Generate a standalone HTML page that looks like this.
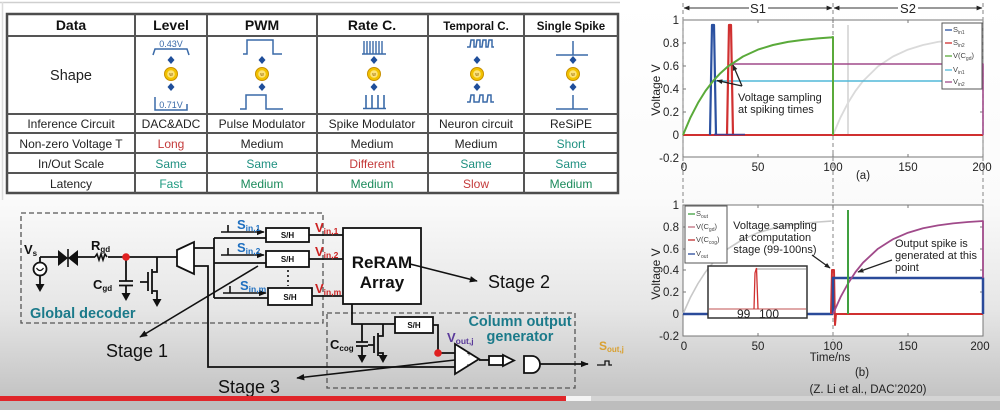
<!DOCTYPE html>
<html><head><meta charset="utf-8"><style>
html,body{margin:0;padding:0;background:#fff;}
svg{display:block;font-family:"Liberation Sans",Arial,sans-serif;}
</style></head><body>
<svg width="1000" height="410" viewBox="0 0 1000 410" xmlns="http://www.w3.org/2000/svg">
<defs>
<linearGradient id="bg" x1="0" y1="0" x2="0" y2="1">
<stop offset="0" stop-color="#ffffff"/>
<stop offset="0.5" stop-color="#fbfbfb"/>
<stop offset="0.78" stop-color="#e6e6e6"/>
<stop offset="1" stop-color="#c4c4c4"/>
</linearGradient>
<marker id="ah" viewBox="0 0 10 10" refX="9" refY="5" markerWidth="8" markerHeight="8" orient="auto-start-reverse" markerUnits="userSpaceOnUse"><path d="M0,1 L10,5 L0,9 Z" fill="#111"/></marker>
<marker id="ahs" viewBox="0 0 10 10" refX="9" refY="5" markerWidth="6" markerHeight="6" orient="auto-start-reverse" markerUnits="userSpaceOnUse"><path d="M0,1 L10,5 L0,9 Z" fill="#222"/></marker>
</defs>

<!-- background -->
<rect width="1000" height="396" fill="url(#bg)"/>
<line x1="0" y1="2.5" x2="620" y2="2.5" stroke="#cfcfcf" stroke-width="1.5"/>
<line x1="2.5" y1="2" x2="2.5" y2="200" stroke="#dcdcdc" stroke-width="1.5"/>

<!-- ================= TABLE ================= -->
<rect x="7" y="14" width="611" height="179" fill="#fff" stroke="#4d4d4d" stroke-width="2.5"/>
<g stroke="#555" stroke-width="2">
<line x1="135" y1="14" x2="135" y2="193"/>
<line x1="207" y1="14" x2="207" y2="193"/>
<line x1="317" y1="14" x2="317" y2="193"/>
<line x1="428" y1="14" x2="428" y2="193"/>
<line x1="524" y1="14" x2="524" y2="193"/>
<line x1="7" y1="36" x2="618" y2="36"/>
<line x1="7" y1="114" x2="618" y2="114"/>
<line x1="7" y1="133" x2="618" y2="133"/>
<line x1="7" y1="153" x2="618" y2="153"/>
<line x1="7" y1="173" x2="618" y2="173"/>
</g>
<g font-weight="bold" fill="#111" text-anchor="middle">
<text x="71" y="30" font-size="14">Data</text>
<text x="171" y="30" font-size="14">Level</text>
<text x="262" y="30" font-size="14">PWM</text>
<text x="372" y="30" font-size="14">Rate C.</text>
<text x="476" y="30" font-size="11.5">Temporal C.</text>
<text x="571" y="30" font-size="11.5">Single Spike</text>
</g>
<text x="71" y="80" font-size="14.5" text-anchor="middle" fill="#222">Shape</text>
<g font-size="12" text-anchor="middle" fill="#222">
<text x="71" y="128">Inference Circuit</text>
<text x="171" y="128">DAC&amp;ADC</text>
<text x="262" y="128">Pulse Modulator</text>
<text x="372" y="128">Spike Modulator</text>
<text x="476" y="128">Neuron circuit</text>
<text x="571" y="128">ReSiPE</text>
<text x="71" y="148">Non-zero Voltage T</text>
<text x="171" y="148" fill="#c43a3a">Long</text>
<text x="262" y="148">Medium</text>
<text x="372" y="148">Medium</text>
<text x="476" y="148">Medium</text>
<text x="571" y="148" fill="#1e9080">Short</text>
<text x="71" y="168">In/Out Scale</text>
<text x="171" y="168" fill="#1e9080">Same</text>
<text x="262" y="168" fill="#1e9080">Same</text>
<text x="372" y="168" fill="#c43a3a">Different</text>
<text x="476" y="168" fill="#1e9080">Same</text>
<text x="571" y="168" fill="#1e9080">Same</text>
<text x="71" y="188">Latency</text>
<text x="171" y="188" fill="#1e9a80">Fast</text>
<text x="262" y="188" fill="#1a8a5a">Medium</text>
<text x="372" y="188" fill="#1a8a5a">Medium</text>
<text x="476" y="188" fill="#c43a3a">Slow</text>
<text x="571" y="188" fill="#1a8a5a">Medium</text>
</g>

<!-- icons: diamonds + weight circles -->
<g fill="#1f4e9a">
<path d="M171,56 l3.5,4 l-3.5,4 l-3.5,-4Z"/><path d="M171,83 l3.5,4 l-3.5,4 l-3.5,-4Z"/>
<path d="M262,56 l3.5,4 l-3.5,4 l-3.5,-4Z"/><path d="M262,83 l3.5,4 l-3.5,4 l-3.5,-4Z"/>
<path d="M374,56 l3.5,4 l-3.5,4 l-3.5,-4Z"/><path d="M374,83 l3.5,4 l-3.5,4 l-3.5,-4Z"/>
<path d="M477,56 l3.5,4 l-3.5,4 l-3.5,-4Z"/><path d="M477,83 l3.5,4 l-3.5,4 l-3.5,-4Z"/>
<path d="M573,56 l3.5,4 l-3.5,4 l-3.5,-4Z"/><path d="M573,83 l3.5,4 l-3.5,4 l-3.5,-4Z"/>
</g>
<g>
<circle cx="171" cy="74" r="6.5" fill="#f2c200" stroke="#c89000"/><circle cx="171" cy="74" r="3.8" fill="#fce37a"/>
<circle cx="262" cy="74" r="6.5" fill="#f2c200" stroke="#c89000"/><circle cx="262" cy="74" r="3.8" fill="#fce37a"/>
<circle cx="374" cy="74" r="6.5" fill="#f2c200" stroke="#c89000"/><circle cx="374" cy="74" r="3.8" fill="#fce37a"/>
<circle cx="477" cy="74" r="6.5" fill="#f2c200" stroke="#c89000"/><circle cx="477" cy="74" r="3.8" fill="#fce37a"/>
<circle cx="573" cy="74" r="6.5" fill="#f2c200" stroke="#c89000"/><circle cx="573" cy="74" r="3.8" fill="#fce37a"/>
</g>
<g font-size="5" fill="#8a5a00" text-anchor="middle">
<text x="171" y="76">w</text><text x="262" y="76">w</text><text x="374" y="76">w</text><text x="477" y="76">w</text><text x="573" y="76">w</text>
</g>
<!-- waveforms -->
<g fill="none" stroke="#3a6aa8" stroke-width="1.5">
<path d="M153,55 L155,49 L187,49 L189,55"/>
<path d="M155,97 L155,110 L187,110 L187,104"/>
<path d="M243,54 L247,54 L247,40 L273,40 L273,54 L282,54"/>
<path d="M240,109 L246,109 L246,95 L266,95 L266,109 L283,109"/>
<path d="M362,54 L386,54 M364,41 V54 M367,41 V54 M370,41 V54 M373,41 V54 M376,41 V54 M379,41 V54 M382,41 V54" stroke-width="1.4"/>
<path d="M363,108.5 L386,108.5 M366,95 V108 M372,95 V108 M378,95 V108 M384,95 V108" stroke-width="1.6"/>
<path d="M467,47 L470,47 L471,40 L474,40 L474,47 L476,47 L477,40 L480,40 L480,47 L482,47 L483,40 L486,40 L486,47 L488,47 L489,40 L492,40 L492,47 L494,47"/>
<path d="M467,102 L470,102 L471,95 L474,95 L474,102 L479,102 L480,95 L483,95 L483,102 L487,102 L488,95 L491,95 L491,102 L494,102"/>
<path d="M556,55 L588,55 M573,41 V55"/>
<path d="M556,109 L588,109 M573,95 V109"/>
</g>
<g font-size="9" fill="#3a6aa8" text-anchor="middle">
<text x="171" y="47">0.43V</text>
<text x="171" y="108">0.71V</text>
</g>

<!-- ================= CIRCUIT ================= -->
<g fill="none" stroke="#555" stroke-width="1.3" stroke-dasharray="5,3">
<rect x="21" y="213" width="302" height="110"/>
<rect x="327" y="313" width="248" height="75"/>
</g>
<g stroke="#111" stroke-width="1.8" fill="none">
<line x1="40" y1="257" x2="40" y2="262.5"/>
<circle cx="40" cy="269" r="6.5" fill="#fff"/>
<path d="M36.5,268 q3.5,5 7,0" stroke-width="1.2"/>
<line x1="40" y1="275.5" x2="40" y2="285"/>
<path d="M40,257 H58 M78,257 H95 M108,257 H177"/>
<path d="M95,257 l2,-3 l2,6 l2,-6 l2,6 l2,-6 l2,3" stroke-width="1.6"/>
<path d="M126,257 V281 M119,281 H133 M119,285.5 H133 M126,285.5 V294"/>
<path d="M157,257 V272 H152 M152,269 V294 M152,291 H157 V300 M148,272 V291 M140,282 H148"/>
<polygon points="177,250 194,242 194,274 177,266" fill="#fff"/>
<path d="M194,248 H214 M214,238 V298 M214,238 H266 M214,263 H266 M214,298 H268"/>
<path d="M194,266 H208 V367 H455"/>
<rect x="266" y="228" width="43" height="14" fill="#fff"/>
<rect x="266" y="251" width="43" height="16" fill="#fff"/>
<rect x="268" y="288" width="44" height="17" fill="#fff"/>
<path d="M309,235 H343 M309,259 H343 M312,296 H343"/>
<rect x="343" y="228" width="78" height="76" fill="#fff"/>
<path d="M352,304 V324 H395"/>
<rect x="395" y="317" width="38" height="16" fill="#fff"/>
<path d="M433,325 H438 V353 H455"/>
<path d="M362,324 V342 M356,342 H368 M356,346 H368 M362,346 V356"/>
<path d="M383,324 V336 H378 M378,333 V356 M378,353 H383 V356 M374,336 V353 M368,345 H374"/>
<polygon points="455,344 455,374 479,359" fill="#fff"/>
<path d="M479,360 H489"/>
<rect x="489" y="356" width="14" height="9" fill="#fff"/>
<polygon points="503,355 503,366 514,360.5" fill="#fff"/>
<path d="M524,356 H532 A8,8.5 0 0 1 532,373 H524 Z" fill="#fff"/>
<path d="M540,364 H588" marker-end="url(#ah)"/>
<path d="M597,365 H605 V361 H609 V365 H612" stroke-width="1.3"/>
</g>
<g fill="#111">
<path d="M35.5,284 H44.5 L40,292 Z"/>
<path d="M121.5,293 H130.5 L126,301 Z"/>
<path d="M152.5,299 H161.5 L157,307 Z"/>
<path d="M357.5,355 H366.5 L362,363 Z"/>
<path d="M378.5,355 H387.5 L383,363 Z"/>
<polygon points="58,250 58,266 68,258"/>
<polygon points="78,250 78,266 68,258"/>
</g>
<line x1="68" y1="249" x2="68" y2="267" stroke="#111" stroke-width="1.6"/>
<g stroke="#111" stroke-width="1.6" fill="none">
<path d="M221,232 H264" marker-end="url(#ah)"/>
<path d="M228,225 V232"/>
<path d="M221,255 H264" marker-end="url(#ah)"/>
<path d="M228,248 V255"/>
<path d="M223,293 H266" marker-end="url(#ah)"/>
<path d="M230,286 V293"/>
<path d="M288,270 V286" stroke-dasharray="2,3"/>
<path d="M258,266 L140,337" marker-end="url(#ah)"/>
<path d="M410,264 L477,281" marker-end="url(#ah)"/>
<path d="M455,360 L297,378" marker-end="url(#ah)"/>
</g>
<circle cx="126" cy="257" r="3.8" fill="#e02020"/>
<circle cx="438" cy="353" r="3.8" fill="#e02020"/>
<g font-weight="bold" font-size="8" fill="#111" text-anchor="middle">
<text x="287.5" y="238">S/H</text>
<text x="287.5" y="262">S/H</text>
<text x="290" y="300">S/H</text>
<text x="414" y="328">S/H</text>
<text x="469" y="356" font-size="7">+</text>
<text x="469" y="367" font-size="7">–</text>
</g>
<g font-weight="bold" fill="#111">
<text x="24" y="254" font-size="13">V<tspan font-size="8" dy="2">s</tspan></text>
<text x="91" y="250" font-size="13">R<tspan font-size="8" dy="2">gd</tspan></text>
<text x="93" y="289" font-size="13">C<tspan font-size="8" dy="2">gd</tspan></text>
<text x="330" y="349" font-size="13">C<tspan font-size="8" dy="2">cog</tspan></text>
<text x="382" y="268" font-size="17" text-anchor="middle">ReRAM</text>
<text x="382" y="288" font-size="17" text-anchor="middle">Array</text>
</g>
<g font-weight="bold" fill="#1e6fc0">
<text x="237" y="229" font-size="13">S<tspan font-size="8.5" dy="2">in,1</tspan></text>
<text x="237" y="252" font-size="13">S<tspan font-size="8.5" dy="2">in,2</tspan></text>
<text x="240" y="290" font-size="13">S<tspan font-size="8.5" dy="2">in,m</tspan></text>
</g>
<g font-weight="bold" fill="#cc2222">
<text x="315" y="232" font-size="13">V<tspan font-size="8.5" dy="2">in,1</tspan></text>
<text x="315" y="256" font-size="13">V<tspan font-size="8.5" dy="2">in,2</tspan></text>
<text x="315" y="293" font-size="13">V<tspan font-size="8.5" dy="2">in,m</tspan></text>
</g>
<text x="447" y="342" font-weight="bold" font-size="13" fill="#5a3a9a">V<tspan font-size="8.5" dy="2">out,j</tspan></text>
<text x="599" y="350" font-weight="bold" font-size="12" fill="#d9a030">S<tspan font-size="8" dy="2">out,j</tspan></text>
<g font-weight="bold" fill="#1b7a8a">
<text x="30" y="318" font-size="14.5">Global decoder</text>
<text x="520" y="326" font-size="14.5" text-anchor="middle">Column output</text>
<text x="520" y="341" font-size="14.5" text-anchor="middle">generator</text>
</g>
<g font-size="18" fill="#111">
<text x="106" y="357">Stage 1</text>
<text x="488" y="288">Stage 2</text>
<text x="218" y="393">Stage 3</text>
</g>

<!-- ================= PLOTS ================= -->
<rect x="683" y="20" width="300" height="137" fill="#fff" stroke="#777" stroke-width="1"/>
<rect x="683" y="205" width="300" height="131" fill="#fff" stroke="#777" stroke-width="1"/>
<g stroke="#333" stroke-width="1" fill="none">
<path d="M684,8 H749" marker-start="url(#ahs)"/>
<path d="M768,8 H832" marker-end="url(#ahs)"/>
<path d="M834,8 H898" marker-start="url(#ahs)"/>
<path d="M918,8 H982" marker-end="url(#ahs)"/>
</g>
<g font-size="13" fill="#222" text-anchor="middle">
<text x="758" y="13">S1</text>
<text x="908" y="13">S2</text>
</g>
<g stroke="#999" stroke-width="1.2" stroke-dasharray="4,3">
<line x1="683" y1="3" x2="683" y2="205"/>
<line x1="833" y1="3" x2="833" y2="340"/>
<line x1="983" y1="3" x2="983" y2="205"/>
</g>
<g stroke="#777" stroke-width="1">
<path d="M758,20 v3 M833,20 v3 M908,20 v3 M758,157 v-3 M833,157 v-3 M908,157 v-3 M683,43 h3 M683,66 h3 M683,89 h3 M683,112 h3 M683,135 h3 M983,43 h-3 M983,66 h-3 M983,89 h-3 M983,112 h-3"/>
<path d="M758,205 v3 M833,205 v3 M908,205 v3 M758,336 v-3 M908,336 v-3 M683,227 h3 M683,249 h3 M683,270 h3 M683,292 h3 M683,314 h3 M983,227 h-3 M983,249 h-3 M983,270 h-3 M983,292 h-3"/>
</g>
<g font-size="11.5" fill="#222" text-anchor="end">
<text x="679" y="24">1</text><text x="679" y="47">0.8</text><text x="679" y="70">0.6</text><text x="679" y="93">0.4</text><text x="679" y="116">0.2</text><text x="679" y="139">0</text><text x="679" y="162">-0.2</text>
<text x="679" y="209">1</text><text x="679" y="231">0.8</text><text x="679" y="253">0.6</text><text x="679" y="274">0.4</text><text x="679" y="296">0.2</text><text x="679" y="318">0</text><text x="679" y="340">-0.2</text>
</g>
<g font-size="11.5" fill="#222" text-anchor="middle">
<text x="684" y="171">0</text><text x="758" y="171">50</text><text x="833" y="171">100</text><text x="908" y="171">150</text><text x="982" y="171">200</text>
<text x="684" y="350">0</text><text x="758" y="350">50</text><text x="833" y="350">100</text><text x="908" y="350">150</text><text x="980" y="350">200</text>
<text x="863" y="179">(a)</text>
<text x="830" y="361">Time/ns</text>
<text x="862" y="376">(b)</text>
<text x="868" y="393">(Z. Li et al., DAC’2020)</text>
</g>
<text transform="translate(660,90) rotate(-90)" font-size="12" fill="#222" text-anchor="middle">Voltage V</text>
<text transform="translate(660,274) rotate(-90)" font-size="12" fill="#222" text-anchor="middle">Voltage V</text>

<!-- top plot curves -->
<g fill="none" stroke-linejoin="round">
<polyline points="833,135 840.5,117.4 848,102.9 855.5,90.9 863,81.1 878,66.4 893,56.5 908,49.6 923,45 938,41.9 953,39.9" stroke="#dadada" stroke-width="1.8"/>
<line x1="848" y1="25" x2="848" y2="135" stroke="#dcdcdc" stroke-width="2"/>
<line x1="683" y1="135" x2="983" y2="135" stroke="#d03030" stroke-width="2"/>
<line x1="713" y1="81" x2="983" y2="81" stroke="#50b8d8" stroke-width="1.6"/>
<polyline points="730,64 983,64 983,135" stroke="#a04a8a" stroke-width="1.6"/>
<polyline points="710,135 712,25 714,25 716,135" stroke="#2a50a0" stroke-width="2.2"/>
<polyline points="727,135 729,25 731,25 733,135" stroke="#d03030" stroke-width="2.2"/>
<line x1="714" y1="134.5" x2="745" y2="134.5" stroke="#4a3a8a" stroke-width="1.5"/>
<polyline points="683,135 690.5,117.4 698,102.9 705.5,90.9 713,81.1 720.5,73.1 728,66.4 743,56.5 758,49.6 773,45 788,41.9 803,39.9 818,38.4 831.5,37.4 833,37 833,135" stroke="#5aaa3a" stroke-width="2"/>
</g>
<g stroke="#222" stroke-width="1.3" fill="none">
<path d="M742,86 L717,80.5" marker-end="url(#ahs)"/>
<path d="M742,86 L733,65" marker-end="url(#ahs)"/>
</g>
<g font-size="11" fill="#222">
<text x="738" y="101">Voltage sampling</text>
<text x="738" y="113">at spiking times</text>
</g>
<rect x="942" y="23" width="40" height="66" fill="#fff" stroke="#555" stroke-width="1"/>
<g stroke-width="1.3">
<line x1="945" y1="30" x2="952" y2="30" stroke="#2a50a0"/>
<line x1="945" y1="43" x2="952" y2="43" stroke="#d03030"/>
<line x1="945" y1="56" x2="952" y2="56" stroke="#5aaa3a"/>
<line x1="945" y1="70" x2="952" y2="70" stroke="#50b8d8"/>
<line x1="945" y1="82" x2="952" y2="82" stroke="#a04a8a"/>
</g>
<g font-size="7.5" fill="#444">
<text x="953" y="32">S<tspan font-size="5" dy="2">in1</tspan></text>
<text x="953" y="45">S<tspan font-size="5" dy="2">in2</tspan></text>
<text x="953" y="58">V(C<tspan font-size="5" dy="2">gd</tspan><tspan dy="-2">)</tspan></text>
<text x="953" y="72">V<tspan font-size="5" dy="2">in1</tspan></text>
<text x="953" y="84">V<tspan font-size="5" dy="2">in2</tspan></text>
</g>

<!-- bottom plot curves -->
<g fill="none" stroke-linejoin="round">
<polyline points="683,314 690.5,297.2 698,283.5 705.5,272 713,262.7 720.5,255 728,248.7 743,239.2 758,232.7 773,228.3 788,225.4 803,223.4 818,222 831.5,221.1" stroke="#c8c8c8" stroke-width="1.6"/>
<line x1="683" y1="314" x2="833" y2="314" stroke="#2a4a9a" stroke-width="2.5"/>
<polyline points="831,314 832,270 834,270 835,325 836,314 983,314" stroke="#d03030" stroke-width="2"/>
<polyline points="833,314 833,278 983,278 983,314" stroke="#2a4a9a" stroke-width="2.5"/>
<polyline points="833,314 840.5,297.2 848,283.5 855.5,272 863,262.7 878,248.7 893,239.2 908,232.7 923,228.3 938,225.4 953,223.4 968,222 981.5,221.1 983,221 983,278" stroke="#a04a8a" stroke-width="1.8"/>
<line x1="848" y1="210" x2="848" y2="314" stroke="#40a040" stroke-width="2"/>
</g>
<rect x="708" y="266" width="99" height="52" fill="#fff" stroke="#333" stroke-width="1.5"/>
<line x1="709" y1="309" x2="806" y2="309" stroke="#c05050" stroke-width="1"/>
<line x1="757" y1="269" x2="806" y2="269" stroke="#aaa" stroke-width="1.2"/>
<polyline points="754,309 755,273 756.5,268 758,309" fill="none" stroke="#d03030" stroke-width="1.3"/>
<g font-size="12" fill="#222">
<text x="737" y="318">99</text>
<text x="759" y="318">100</text>
</g>
<g stroke="#222" stroke-width="1.3" fill="none">
<path d="M812,255 L830,268" marker-end="url(#ahs)"/>
<path d="M892,260 L858,272" marker-end="url(#ahs)"/>
</g>
<g font-size="11" fill="#222" text-anchor="middle">
<text x="775" y="229">Voltage sampling</text>
<text x="775" y="241">at computation</text>
<text x="775" y="253">stage (99-100ns)</text>
</g>
<g font-size="11" fill="#222">
<text x="895" y="247">Output spike is</text>
<text x="895" y="259">generated at this</text>
<text x="895" y="271">point</text>
</g>
<rect x="685" y="206" width="42" height="57" fill="#fff" stroke="#555" stroke-width="1"/>
<g stroke-width="1.3">
<line x1="688" y1="214" x2="695" y2="214" stroke="#40a040"/>
<line x1="688" y1="227" x2="695" y2="227" stroke="#c07080"/>
<line x1="688" y1="240" x2="695" y2="240" stroke="#c03030"/>
<line x1="688" y1="254" x2="695" y2="254" stroke="#2a4a9a"/>
</g>
<g font-size="7.5" fill="#444">
<text x="696" y="216">S<tspan font-size="5" dy="2">out</tspan></text>
<text x="696" y="229">V(C<tspan font-size="5" dy="2">gd</tspan><tspan dy="-2">)</tspan></text>
<text x="696" y="242">V(C<tspan font-size="5" dy="2">cog</tspan><tspan dy="-2">)</tspan></text>
<text x="696" y="256">V<tspan font-size="5" dy="2">out</tspan></text>
</g>

<!-- ================= PLAYER BAR ================= -->
<rect x="0" y="396" width="1000" height="14" fill="#bdbdbd"/>
<rect x="0" y="396" width="1000" height="5" fill="#d4d4d4"/>
<rect x="0" y="396" width="566" height="5" fill="#e0262a"/>
<rect x="566" y="396" width="25" height="5" fill="#f4f4f4"/>
</svg>
</body></html>
